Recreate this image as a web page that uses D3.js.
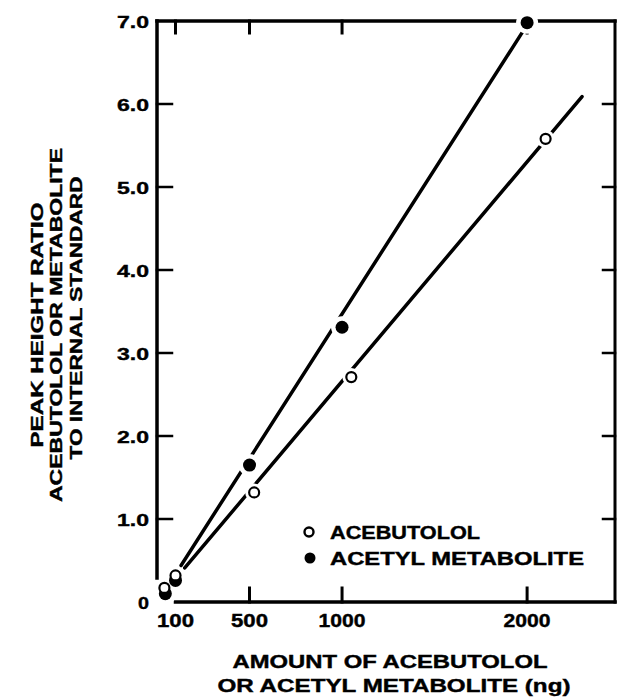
<!DOCTYPE html>
<html><head><meta charset="utf-8">
<script src="https://cdn.jsdelivr.net/npm/d3@7"></script>
<style>body{margin:0;background:#fff}svg{display:block}text{font-family:"Liberation Sans",Arial,sans-serif;font-weight:bold;fill:#000;stroke:#000;stroke-width:0.4px}</style>
</head><body>
<script>
// Data
const acebutololX = [40, 100, 525, 1050, 2100];
const acebutololY = [0.17, 0.32, 1.32, 2.71, 5.58];
const metaboliteX = [45, 100, 500, 1000, 2000];
const metaboliteY = [0.10, 0.26, 1.65, 3.31, 6.98];
// fitted lines (endpoints)
const acebutololLineX = [150, 2297];
const acebutololLineY = [0.41, 6.09];
const metaboliteLineX = [130, 1973];
const metaboliteLineY = [0.44, 6.86];
const xTicks = [100, 500, 1000, 2000];
const xTickLabels = ["100", "500", "1000", "2000"];
const yTicks = [0, 1, 2, 3, 4, 5, 6, 7];
const yTickLabels = ["0", "1.0", "2.0", "3.0", "4.0", "5.0", "6.0", "7.0"];
const legendLabels = ["ACEBUTOLOL", "ACETYL METABOLITE"];

const W = 619, H = 697;
const svg = d3.select("body").append("svg").attr("width", W).attr("height", H);
const x = d3.scaleLinear().domain([0, 2475]).range([157, 615]);
const y = d3.scaleLinear().domain([0, 7]).range([602, 21]);

const ax = svg.append("g").attr("stroke", "#000").attr("fill", "none").attr("stroke-linecap", "square");
// frame
ax.append("line").attr("x1", x(0)).attr("x2", x(0)).attr("y1", y(7)).attr("y2", 578).attr("stroke-width", 3.5);
ax.append("line").attr("x1", x(0)).attr("x2", x(2475)).attr("y1", y(7)).attr("y2", y(7)).attr("stroke-width", 3.5);
ax.append("line").attr("x1", x(2475)).attr("x2", x(2475)).attr("y1", y(7)).attr("y2", y(0)).attr("stroke-width", 3);
ax.append("line").attr("x1", x(100)).attr("x2", x(2475)).attr("y1", y(0)).attr("y2", y(0)).attr("stroke-width", 3.5);
// ticks
yTicks.filter(d => d > 0 && d < 7).forEach(d => {
  ax.append("line").attr("x1", x(0)).attr("x2", x(0) + 15).attr("y1", y(d)).attr("y2", y(d)).attr("stroke-width", 2.5);
  ax.append("line").attr("x1", x(2475)).attr("x2", x(2475) - 12).attr("y1", y(d)).attr("y2", y(d)).attr("stroke-width", 2.5);
});
xTicks.forEach(d => {
  ax.append("line").attr("x1", x(d)).attr("x2", x(d)).attr("y1", y(7)).attr("y2", y(7) + 12).attr("stroke-width", 3);
  if (d > 100) ax.append("line").attr("x1", x(d)).attr("x2", x(d)).attr("y1", y(0)).attr("y2", y(0) - 14).attr("stroke-width", 3);
});

// tick labels
svg.append("g").selectAll("text").data(yTicks).join("text")
  .attr("x", 149).attr("y", d => y(d) + 6.5).attr("text-anchor", "end")
  .attr("font-size", 17)
  .attr("textLength", (d, i) => yTickLabels[i].length === 1 ? 11 : 32)
  .attr("lengthAdjust", "spacingAndGlyphs")
  .text((d, i) => yTickLabels[i]);
svg.append("g").selectAll("text").data(xTicks).join("text")
  .attr("x", d => x(d)).attr("y", 627).attr("text-anchor", "middle")
  .attr("font-size", 18)
  .attr("textLength", (d, i) => xTickLabels[i].length === 3 ? 37 : 47)
  .attr("lengthAdjust", "spacingAndGlyphs")
  .text((d, i) => xTickLabels[i]);

// fitted lines
const lineGen = d3.line().x(d => x(d[0])).y(d => y(d[1]));
svg.append("path").datum(d3.zip(metaboliteLineX, metaboliteLineY)).attr("d", lineGen)
  .attr("stroke", "#000").attr("stroke-width", 3.5).attr("fill", "none").attr("stroke-linecap", "round");
svg.append("path").datum(d3.zip(acebutololLineX, acebutololLineY)).attr("d", lineGen)
  .attr("stroke", "#000").attr("stroke-width", 3.5).attr("fill", "none").attr("stroke-linecap", "round");

// points
const met = d3.zip(metaboliteX, metaboliteY);
const ace = d3.zip(acebutololX, acebutololY);
const pts = svg.append("g");
pts.selectAll(".mh").data(met).join("circle").attr("cx", d => x(d[0])).attr("cy", d => y(d[1])).attr("r", 11).attr("fill", "#fff");
pts.selectAll(".ah").data(ace).join("circle").attr("cx", d => x(d[0])).attr("cy", d => y(d[1])).attr("r", 9).attr("fill", "#fff");
pts.selectAll(".m").data(met).join("circle").attr("cx", d => x(d[0])).attr("cy", d => y(d[1])).attr("r", 6.5).attr("fill", "#000");
pts.selectAll(".a").data(ace).join("circle").attr("cx", d => x(d[0])).attr("cy", d => y(d[1])).attr("r", 5).attr("fill", "#fff").attr("stroke", "#000").attr("stroke-width", 2.2);

// legend
const lg = svg.append("g");
lg.append("circle").attr("cx", 309).attr("cy", 532).attr("r", 4.5).attr("fill", "#fff").attr("stroke", "#000").attr("stroke-width", 2.4);
lg.append("circle").attr("cx", 310).attr("cy", 558).attr("r", 5.5).attr("fill", "#000");
lg.append("text").attr("x", 330).attr("y", 538.5).attr("font-size", 18).attr("textLength", 150).attr("lengthAdjust", "spacingAndGlyphs").text(legendLabels[0]);
lg.append("text").attr("x", 330).attr("y", 564.5).attr("font-size", 18).attr("textLength", 254).attr("lengthAdjust", "spacingAndGlyphs").text(legendLabels[1]);

// axis titles
svg.append("text").attr("x", 390).attr("y", 668).attr("text-anchor", "middle").attr("font-size", 18)
  .attr("textLength", 315).attr("lengthAdjust", "spacingAndGlyphs").text("AMOUNT OF ACEBUTOLOL");
svg.append("text").attr("x", 394).attr("y", 692).attr("text-anchor", "middle").attr("font-size", 18)
  .attr("textLength", 353).attr("lengthAdjust", "spacingAndGlyphs").text("OR ACETYL METABOLITE (ng)");
const yt = [["PEAK HEIGHT RATIO", 43, 245, 325], ["ACEBUTOLOL OR METABOLITE", 62, 354, 325], ["TO INTERNAL STANDARD", 82, 283, 318]];
yt.forEach(([t, bx, len, cy]) => {
  svg.append("text").attr("transform", `translate(${bx},${cy}) rotate(-90)`).attr("text-anchor", "middle")
    .attr("font-size", 17).attr("textLength", len).attr("lengthAdjust", "spacingAndGlyphs").text(t);
});
</script>
</body></html>
